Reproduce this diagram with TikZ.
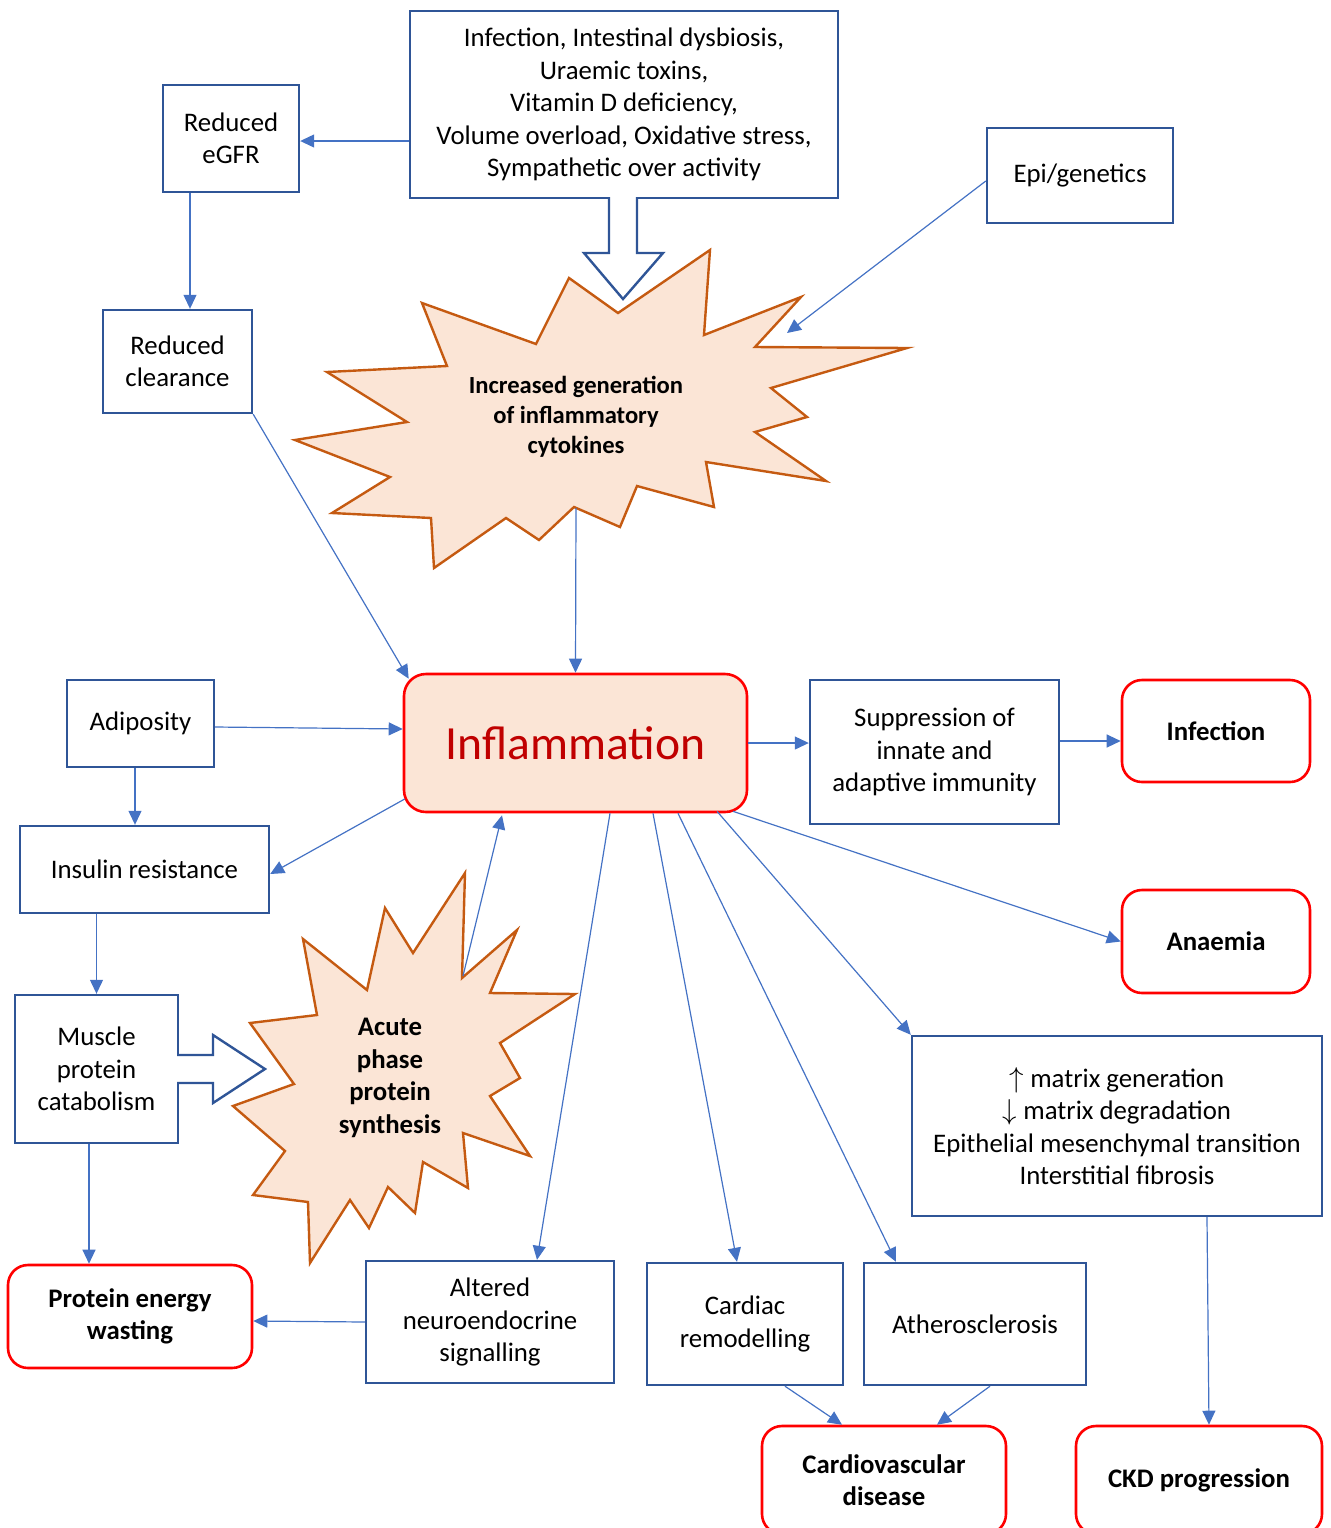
\documentclass[tikz,border=0pt]{standalone}
\usepackage{fontspec}
\setmainfont{Carlito}
\usetikzlibrary{arrows.meta,calc}
\definecolor{boxblue}{HTML}{2F5597}
\definecolor{arrblue}{HTML}{4472C4}
\definecolor{burst}{HTML}{C55A11}
\definecolor{peach}{HTML}{FBE5D6}
\definecolor{darkred}{HTML}{C00000}
\begin{document}
\begin{tikzpicture}[x=0.5pt,y=-0.5pt,
  bluebox/.style={draw=boxblue, line width=1.2pt, align=center, inner sep=0pt,
    font=\fontsize{13.4}{16.25}\selectfont},
  redbox/.style={draw=red, line width=1.3pt, rounded corners=10pt, align=center, inner sep=0pt,
    font=\bfseries\fontsize{13.4}{16.25}\selectfont},
  arr/.style={draw=arrblue, line width=0.6pt, -{Triangle[length=7pt,width=6.5pt]}},
  burststyle/.style={draw=burst, fill=peach, line width=1.2pt, line join=miter},
  widearr/.style={draw=boxblue, line width=1.2pt, line join=miter},
  bursttext/.style={align=center, inner sep=0pt, font=\bfseries\fontsize{12.3}{15}\selectfont}
]
\useasboundingbox (0,0) rectangle (1330,1528);

% starburst 1
\path[burststyle] (710,250) -- (704,335) -- (801,297) -- (755,347) -- (907,348) -- (771,388)
  -- (807,417) -- (755,432) -- (826,481) -- (706,462) -- (714,507) -- (637,486) -- (620,527)
  -- (574,507) -- (539,540) -- (506,518) -- (434,568) -- (431,518) -- (332,513) -- (390,477)
  -- (295,440) -- (407,422) -- (327,372) -- (447,366) -- (422,303) -- (536,344) -- (569,278)
  -- (618,313) -- cycle;
\node[bursttext] (cyt) at (576,417) {Increased generation\\of inflammatory\\cytokines};
\coordinate (cytbot) at (576,508);
\coordinate (cytin) at (787,333);

% starburst 2
\path[burststyle] (465,873) -- (462,978) -- (517,930) -- (490,993) -- (575,994) -- (500,1043)
  -- (520,1078) -- (490,1096) -- (530,1156) -- (463,1133) -- (468,1188) -- (423,1162)
  -- (415,1213) -- (388,1187) -- (369,1228) -- (350,1200) -- (310,1263) -- (308,1202)
  -- (253,1195) -- (285,1151) -- (233,1106) -- (294,1084) -- (250,1023) -- (317,1015)
  -- (303,939) -- (367,990) -- (385,908) -- (413,953) -- cycle;
\node[bursttext, font=\bfseries\fontsize{13.4}{16.35}\selectfont] (aps) at (390,1078) {Acute\\phase\\protein\\synthesis};
\coordinate (apstop) at (463,976);

% blue boxes
\node[bluebox, minimum width=214pt, minimum height=93.5pt] (top) at (624,104.5)
  {Infection, Intestinal dysbiosis,\\Uraemic toxins,\\Vitamin D deficiency,\\Volume overload, Oxidative stress,\\Sympathetic over activity};
\node[bluebox, minimum width=68pt, minimum height=53.5pt] (egfr) at (231,138.5) {Reduced\\eGFR};
\node[bluebox, minimum width=74.5pt, minimum height=51.5pt] (clear) at (177.5,361.5) {Reduced\\clearance};
\node[bluebox, minimum width=93pt, minimum height=47.5pt] (epi) at (1080,175.5) {Epi/genetics};
\node[bluebox, minimum width=73.5pt, minimum height=43.5pt] (adip) at (140.5,723.5) {Adiposity};
\node[bluebox, minimum width=124.5pt, minimum height=43.5pt] (insul) at (144.5,869.5) {Insulin resistance};
\node[bluebox, minimum width=81.5pt, minimum height=74pt] (muscle) at (96.5,1069) {Muscle\\protein\\catabolism};
\node[bluebox, minimum width=124.5pt, minimum height=72pt] (supp) at (934.5,752) {Suppression of\\innate and\\adaptive immunity};
\node[bluebox, minimum width=205pt, minimum height=90pt] (matrix) at (1117,1126)
  {$\uparrow$ matrix generation\\$\downarrow$ matrix degradation\\Epithelial mesenchymal transition\\Interstitial fibrosis};
\node[bluebox, minimum width=124pt, minimum height=61pt] (alt) at (490,1322) {Altered\\neuroendocrine\\signalling};
\node[bluebox, minimum width=98pt, minimum height=61pt] (card) at (745,1324) {Cardiac\\remodelling};
\node[bluebox, minimum width=111pt, minimum height=61pt] (ath) at (975,1324) {Atherosclerosis};

% wide arrows (open into their source boxes)
\fill[white] (609,193) -- (609,253) -- (584,253) -- (623,299) -- (663,253) -- (637,253) -- (637,193) -- cycle;
\draw[widearr] (609,197) -- (609,253) -- (584,253) -- (623,299) -- (663,253) -- (637,253) -- (637,197);
\fill[white] (173,1055) -- (213,1055) -- (213,1035) -- (265,1069) -- (213,1103) -- (213,1083) -- (173,1083) -- cycle;
\draw[widearr] (177,1055) -- (213,1055) -- (213,1035) -- (265,1069) -- (213,1103) -- (213,1083) -- (177,1083);

% red boxes
\node[redbox, fill=peach, rounded corners=11pt, minimum width=171.5pt, minimum height=69pt,
  font=\fontsize{23.8}{28}\selectfont, text=darkred] (infl) at (575.5,743) {Inflammation};
\node[redbox, minimum width=94pt, minimum height=51pt] (infect) at (1216,731) {Infection};
\node[redbox, minimum width=94pt, minimum height=51.5pt] (anaem) at (1216,941.5) {Anaemia};
\node[redbox, minimum width=122pt, minimum height=51.5pt] (pew) at (130,1316.5) {Protein energy\\wasting};
\node[redbox, minimum width=122pt, minimum height=54pt] (cvd) at (884,1480) {Cardiovascular\\disease};
\node[redbox, minimum width=123pt, minimum height=54pt] (ckd) at (1199,1480) {CKD progression};

% connectors
\draw[arr] ([yshift=-1.25pt]top.west |- egfr.east) -- ([yshift=-1.25pt]egfr.east);
\draw[arr] ([xshift=-20.5pt]egfr.south) -- ([xshift=-20.5pt]egfr.south |- clear.north);
\draw[arr] (clear.south east) -- ([xshift=3pt,yshift=-3pt]infl.north west);
\draw[arr] ([yshift=-2.75pt]epi.west) -- (cytin);
\draw[arr] (cytbot) -- (infl.north);
\draw[arr] ([yshift=-1.75pt]adip.east) -- ([yshift=7pt]infl.west);
\draw[arr] ([xshift=-2.75pt]adip.south) -- ([xshift=-2.75pt]adip.south |- insul.north);
\draw[arr] ([xshift=1pt,yshift=-28pt]infl.west) -- ([yshift=-2.25pt]insul.east);
\draw[arr] (insul.south -| muscle.north) -- (muscle.north);
\draw[arr] ([xshift=-3.75pt]muscle.south) -- ([xshift=-3.75pt]muscle.south |- pew.north);
\draw[arr] (apstop) -- ([xshift=-36.75pt,yshift=-1pt]infl.south);
\draw[arr] ([xshift=17.25pt]infl.south) -- ([xshift=23.5pt]alt.north);
\draw[arr] ([xshift=38.75pt]infl.south) -- ([xshift=-4pt]card.north);
\draw[arr] ([xshift=51.25pt]infl.south) -- ([xshift=-39.5pt]ath.north);
\draw[arr] ([xshift=70.75pt,yshift=1pt]infl.south) -- (matrix.north west);
\draw[arr] ([xshift=78.75pt,yshift=1pt]infl.south) -- (anaem.west);
\draw[arr] (infl.east) -- (infl.east -| supp.west);
\draw[arr] ([yshift=5.5pt]supp.east) -- ([yshift=5.5pt]supp.east -| infect.west);
\draw[arr] (alt.west) -- ([yshift=-2.25pt]pew.east);
\draw[arr] ([xshift=20pt]card.south) -- ([xshift=-21pt]cvd.north);
\draw[arr] ([xshift=7.5pt]ath.south) -- ([xshift=26.5pt]cvd.north);
\draw[arr] ([xshift=45pt]matrix.south) -- ([xshift=5pt]ckd.north);
\end{tikzpicture}
\end{document}
